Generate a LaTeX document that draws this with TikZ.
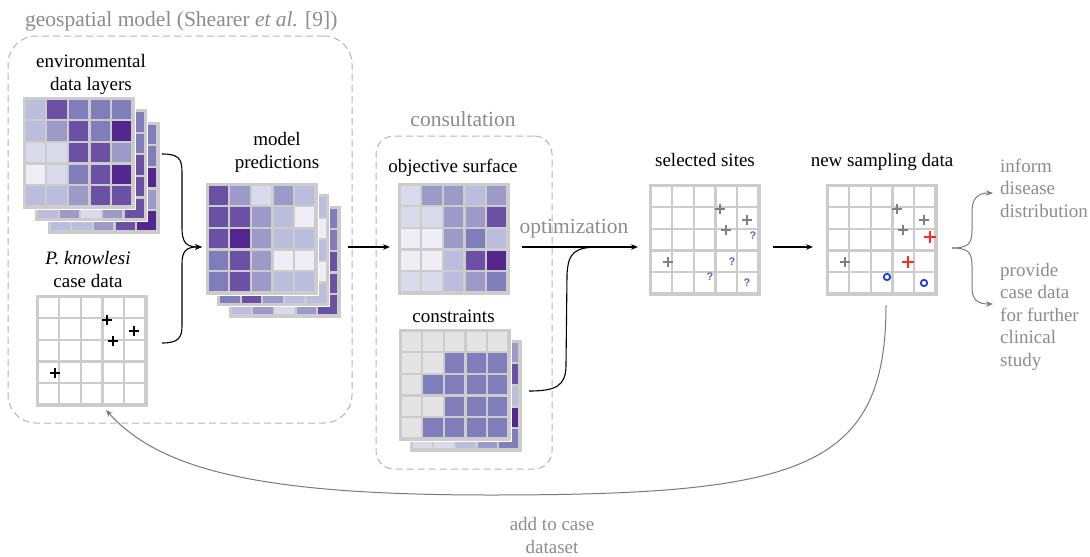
\documentclass[tikz,border=0pt]{standalone}
\usepackage{fontspec}
\setmainfont{Liberation Serif}
\newfontfamily\qfont{Liberation Sans}
\usetikzlibrary{calc,arrows.meta}
\definecolor{p1}{HTML}{EFEDF5}
\definecolor{p2}{HTML}{DADAEB}
\definecolor{p3}{HTML}{BCBDDC}
\definecolor{p4}{HTML}{9E9AC8}
\definecolor{p5}{HTML}{807DBA}
\definecolor{p6}{HTML}{6A51A3}
\definecolor{p7}{HTML}{54278F}
\definecolor{gz}{HTML}{E4E4E4}
\definecolor{gridc}{HTML}{CCCCCC}
\definecolor{txtgray}{HTML}{8C8C8C}
\definecolor{dashc}{HTML}{B4B4B4}
\definecolor{markgray}{HTML}{808080}
\definecolor{qcol}{HTML}{6F5FB5}
\definecolor{redm}{HTML}{FF2A1A}
\definecolor{bluem}{HTML}{1F3FE0}
\definecolor{linegray}{HTML}{7A7A7A}
\newcommand\mkgrid[3]{%
  \node[gridbox] (#1) at (#2) {};
  \foreach \cc [count=\ci from 0] in {#3} {%
    \pgfmathtruncatemacro\gcol{mod(\ci,5)}%
    \pgfmathtruncatemacro\grow{floor(\ci/5)}%
    \fill[\cc] ($(#1.north west)+(3.7+21.6*\gcol,3.7+21.6*\grow)$) rectangle +(19.3,19.3);
  }%
}
\begin{document}
\begin{tikzpicture}[x=1pt,y=-1pt,
  gridbox/.style={rectangle,minimum size=113pt,inner sep=0pt,outer sep=0pt,fill=gridc,draw=white,line width=0.8pt},
  lbl/.style={font=\fontsize{19}{22.5}\selectfont,align=center,inner sep=0pt},
  glbl/.style={text=txtgray,font=\fontsize{21.5}{24}\selectfont,inner sep=0pt},
  rlbl/.style={text=txtgray,font=\fontsize{19}{22.5}\selectfont,align=left,inner sep=0pt},
  dbox/.style={draw=dashc,dash pattern=on 7pt off 4pt,line width=1pt,rounded corners=28pt,inner sep=0pt,outer sep=0pt},
  conn/.style={draw=black,line width=1.1pt,-{Stealth[length=7pt,width=5.5pt]}},
  gconn/.style={draw=linegray,line width=1pt,-{Stealth[length=7pt,width=5.5pt]}},
  qmark/.style={text=qcol,font=\qfont\bfseries\fontsize{11}{11}\selectfont,inner sep=0pt},
  plusm/.pic={\draw (-5,0) -- (5,0) (0,-5) -- (0,5);},
  plusb/.pic={\draw (-6,0) -- (6,0) (0,-6) -- (0,6);},
]
\useasboundingbox (0,0) rectangle (1090,557);

% dashed group boxes
\node[dbox,minimum width=344pt,minimum height=387pt] (geo) at (180,229.5) {};
\node[dbox,rounded corners=18pt,minimum width=176pt,minimum height=333pt] (consbox) at (464,302.5) {};
\node[glbl,anchor=base west] (geolbl) at (25,26) {geospatial model (Shearer \textit{et al.} [9])};
\node[glbl,anchor=base] (conslbl) at (463,126) {consultation};

% environmental data layers
\mkgrid{env3}{103.5,177.5}{p4,p5,p3,p4,p5, p3,p4,p5,p6,p5, p2,p3,p4,p5,p7, p3,p4,p5,p6,p4, p3,p3,p4,p6,p7}
\mkgrid{env2}{91,165}{p4,p3,p5,p4,p5, p3,p5,p4,p6,p5, p2,p4,p6,p5,p6, p3,p4,p5,p6,p6, p3,p4,p2,p4,p6}
\mkgrid{env1}{78.5,152.5}{p3,p6,p5,p5,p5, p3,p4,p6,p5,p7, p2,p2,p6,p6,p4, p1,p2,p5,p6,p7, p3,p3,p4,p6,p6}
\node[lbl,anchor=base] (envlbl) at (91,90) {environmental\\data layers};

% model predictions
\mkgrid{model3}{284.5,261.5}{p4,p3,p5,p4,p5, p3,p5,p4,p6,p5, p2,p4,p6,p5,p6, p3,p4,p5,p6,p6, p3,p4,p2,p4,p6}
\mkgrid{model2}{273,250}{p5,p4,p3,p4,p3, p6,p5,p4,p3,p1, p6,p6,p4,p3,p3, p5,p6,p3,p2,p1, p5,p6,p4,p3,p3}
\mkgrid{model1}{261.5,238.5}{p6,p4,p2,p4,p3, p6,p6,p4,p3,p1, p6,p7,p4,p3,p3, p5,p6,p4,p1,p1, p5,p6,p4,p3,p3}
\node[lbl,anchor=base] (modellbl) at (277,168) {model\\predictions};

% case data
\mkgrid{case}{91.5,350.5}{white,white,white,white,white, white,white,white,white,white, white,white,white,white,white, white,white,white,white,white, white,white,white,white,white}
\node[lbl,anchor=base] (caselbl) at (88,287) {\textit{P. knowlesi}\\case data};

% objective surface
\mkgrid{obj}{453.5,238.5}{p2,p4,p4,p3,p4, p2,p2,p4,p4,p6, p1,p1,p4,p5,p3, p1,p1,p3,p6,p7, p2,p2,p3,p4,p5}
\node[lbl,anchor=base] (objlbl) at (453,172) {objective surface};

% constraints
\mkgrid{cons2}{465.5,395.5}{p3,p4,p3,p4,p4, p2,p3,p4,p5,p6, p2,p3,p3,p4,p3, p2,p3,p4,p5,p7, p2,p2,p3,p4,p5}
\mkgrid{cons1}{454.5,384.5}{gz,gz,gz,gz,gz, gz,gz,p5,p5,p5, gz,p5,p5,p5,p5, gz,gz,p5,p5,p5, gz,p5,p5,p5,p5}
\node[lbl,anchor=base] (conslbl2) at (453.5,322) {constraints};

% selected sites / new sampling data
\mkgrid{sel}{704.5,239.5}{white,white,white,white,white, white,white,white,white,white, white,white,white,white,white, white,white,white,white,white, white,white,white,white,white}
\mkgrid{new}{881.5,239.5}{white,white,white,white,white, white,white,white,white,white, white,white,white,white,white, white,white,white,white,white, white,white,white,white,white}
\node[lbl,anchor=base] (sellbl) at (705,166) {selected sites};
\node[lbl,anchor=base] (newlbl) at (882,166) {new sampling data};

% marks
\foreach \dx/\dy in {72/26,99/36.5,78/46.5,19.5/79} {
  \pic[black,line width=2pt] at ($(case.north west)+(\dx,\dy)$) {plusm};
  \pic[markgray,line width=2pt] at ($(sel.north west)+(\dx,\dy)$) {plusm};
  \pic[markgray,line width=2pt] at ($(new.north west)+(\dx,\dy)$) {plusm};
}
\foreach \dx/\dy [count=\k] in {105/53,84/79,62/94,99/100}
  \node[qmark] (q\k) at ($(sel.north west)+(\dx,\dy)$) {?};
\pic[redm,line width=2.2pt] at ($(new.north west)+(105,54)$) {plusb};
\pic[redm,line width=2.2pt] at ($(new.north west)+(83,79)$) {plusb};
\draw[bluem,line width=1.8pt] ($(new.north west)+(62,94)$) circle[radius=3.2pt];
\draw[bluem,line width=1.8pt] ($(new.north west)+(99,100)$) circle[radius=3.2pt];

% right-hand labels
\node[rlbl,anchor=base west] (inform) at (1000,217) {inform\\disease\\distribution};
\node[rlbl,anchor=base west] (provide) at (1000,366) {provide\\case data\\for further\\clinical\\study};
\node[rlbl,align=center,anchor=base] (addlbl) at (552,553) {add to case\\dataset};
\node[glbl,anchor=base] (optlbl) at (574,233) {optimization};

% connectors
\coordinate (s1) at ($(env3.north east)+(2,33)$);
\coordinate (s2) at ($(case.east)+(14,-7.5)$);
\coordinate (min) at ($(model1.west)+(-3,8.5)$);
\draw[conn] (s1) .. controls (178,154) and (182,158) .. (182,172) -- (182,228) .. controls (182,242) and (186,247) .. (min);
\draw[conn] (s2) .. controls (178,343) and (182,338) .. (182,326) -- (182,264) .. controls (182,251) and (186,247) .. (min);
\draw[conn] ($(model3.east)+(7,-14.5)$) -- ($(obj.west)+(-7,8.5)$);
\draw[conn] ($(obj.east)+(12,8.5)$) -- ($(sel.west)+(-10,7.5)$);
\draw[line width=1.1pt] ($(cons2.east)+(7,-4.5)$) .. controls (556,391) and (566,386) .. (566,365) -- (567,275) .. controls (568,252) and (575,247) .. (600,247) -- (617,247);
\draw[conn] ($(sel.east)+(12,7.5)$) -- ($(new.west)+(-12,7.5)$);

\coordinate (bs) at ($(new.east)+(14,8.5)$);
\coordinate (tip1) at (993,193);
\coordinate (tip2) at (993,304);
\draw[gconn] (bs) .. controls (968,248) and (972,244) .. (972,230) -- (972,212) .. controls (972,198) and (978,193) .. (tip1);
\draw[gconn] (bs) .. controls (968,248) and (972,252) .. (972,266) -- (972,288) .. controls (972,300) and (978,304) .. (tip2);

\draw[gconn] ($(new.south)+(4.5,9)$) .. controls (886,470) and (800,495) .. (490,495) .. controls (260,495) and (160,470) .. ($(case.south)+(14.5,3)$);
\end{tikzpicture}
\end{document}
